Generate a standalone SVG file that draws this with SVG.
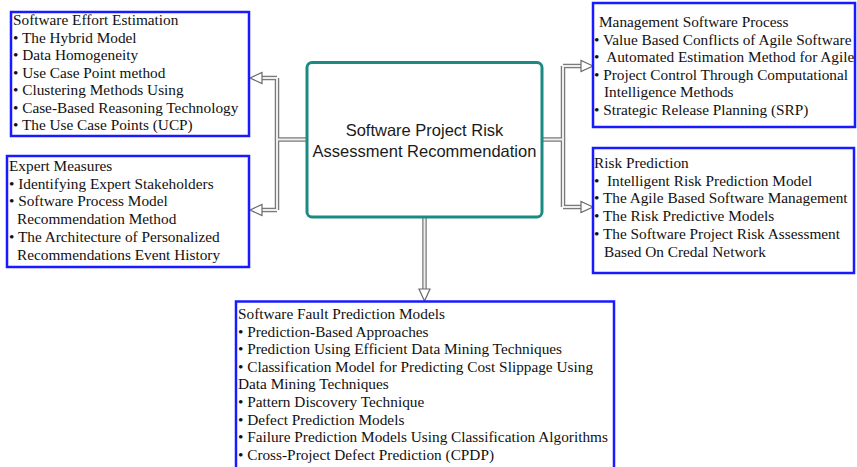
<svg xmlns="http://www.w3.org/2000/svg" width="857" height="467" viewBox="0 0 857 467">
<defs>
<style>
.box{fill:#fff;stroke:#1a1aff;stroke-width:2.5}
.center{fill:#fff;stroke:#1b8a82;stroke-width:3}
.t{font-family:"Liberation Serif","Times New Roman",serif;font-size:15.3px;fill:#111;white-space:pre}
.c{font-family:"Liberation Sans",Arial,sans-serif;font-size:16.5px;fill:#1a1a1a;text-anchor:middle}
.lo{fill:none;stroke:#7a7a7a;stroke-width:4.5}
.li{fill:none;stroke:#eeeeee;stroke-width:2}
.ah{fill:#fff;stroke:#6a6a6a;stroke-width:1.2;stroke-linejoin:miter}
</style>
</defs>
<rect width="857" height="467" fill="#fff"/>
<g id="connectors">
<path class="lo" d="M307,139.5 H277 M277,78 V210 M277,78 H261 M277,210 H261 M542,139.5 H563 M563,66 V207 M563,66 H582 M563,207 H582 M424.5,217 V290"/>
<path class="li" d="M307,139.5 H277 M277,78 V210 M277,78 H261 M277,210 H261 M542,139.5 H563 M563,66 V207 M563,66 H582 M563,207 H582 M424.5,217 V290"/>
<polygon class="ah" points="250,78 262,72.5 262,83.5"/>
<polygon class="ah" points="250,210 262,204.5 262,215.5"/>
<polygon class="ah" points="593,66 581,60.5 581,71.5"/>
<polygon class="ah" points="593,207 581,201.5 581,212.5"/>
<polygon class="ah" points="424.5,301 419,289 430,289"/>
</g>
<g id="center">
<rect class="center" x="307" y="62.5" width="235" height="154.5" rx="5"/>
<text class="c" x="424.5" y="136">Software Project Risk</text>
<text class="c" x="424.5" y="157">Assessment Recommendation</text>
</g>
<g id="effort">
<rect class="box" x="11" y="12" width="238" height="124"/>
<text class="t" x="13" y="25">Software Effort Estimation</text>
<text class="t" x="13" y="42.5">• The Hybrid Model</text>
<text class="t" x="13" y="60">• Data Homogeneity</text>
<text class="t" x="13" y="77.5">• Use Case Point method</text>
<text class="t" x="13" y="95">• Clustering Methods Using</text>
<text class="t" x="13" y="112.5">• Case-Based Reasoning Technology</text>
<text class="t" x="13" y="130">• The Use Case Points (UCP)</text>
</g>
<g id="expert">
<rect class="box" x="7" y="156" width="242" height="111"/>
<text class="t" x="9" y="171">Expert Measures</text>
<text class="t" x="9" y="188.7">• Identifying Expert Stakeholders</text>
<text class="t" x="9" y="206.4">• Software Process Model</text>
<text class="t" x="17" y="224.1">Recommendation Method</text>
<text class="t" x="9" y="241.8">• The Architecture of Personalized</text>
<text class="t" x="17" y="259.5">Recommendations Event History</text>
</g>
<g id="management">
<rect class="box" x="593" y="3" width="262" height="124"/>
<text class="t" x="599" y="27">Management Software Process</text>
<text class="t" x="594" y="44.5">• Value Based Conflicts of Agile Software</text>
<text class="t" x="594" y="62">•  Automated Estimation Method for Agile</text>
<text class="t" x="594" y="79.5">• Project Control Through Computational</text>
<text class="t" x="604" y="97">Intelligence Methods</text>
<text class="t" x="594" y="114.5">• Strategic Release Planning (SRP)</text>
</g>
<g id="risk">
<rect class="box" x="593" y="148" width="261" height="125"/>
<text class="t" x="594" y="168">Risk Prediction</text>
<text class="t" x="594" y="185.7">•  Intelligent Risk Prediction Model</text>
<text class="t" x="594" y="203.4">• The Agile Based Software Management</text>
<text class="t" x="594" y="221.1">• The Risk Predictive Models</text>
<text class="t" x="594" y="238.8">• The Software Project Risk Assessment</text>
<text class="t" x="604" y="256.5">Based On Credal Network</text>
</g>
<g id="fault">
<rect class="box" x="236" y="301.5" width="378" height="170"/>
<text class="t" x="238" y="319">Software Fault Prediction Models</text>
<text class="t" x="238" y="336.6">• Prediction-Based Approaches</text>
<text class="t" x="238" y="354.2">• Prediction Using Efficient Data Mining Techniques</text>
<text class="t" x="238" y="371.8">• Classification Model for Predicting Cost Slippage Using</text>
<text class="t" x="238" y="389.4">Data Mining Techniques</text>
<text class="t" x="238" y="407">• Pattern Discovery Technique</text>
<text class="t" x="238" y="424.6">• Defect Prediction Models</text>
<text class="t" x="238" y="442.2">• Failure Prediction Models Using Classification Algorithms</text>
<text class="t" x="238" y="459.8">• Cross-Project Defect Prediction (CPDP)</text>
</g>
</svg>
